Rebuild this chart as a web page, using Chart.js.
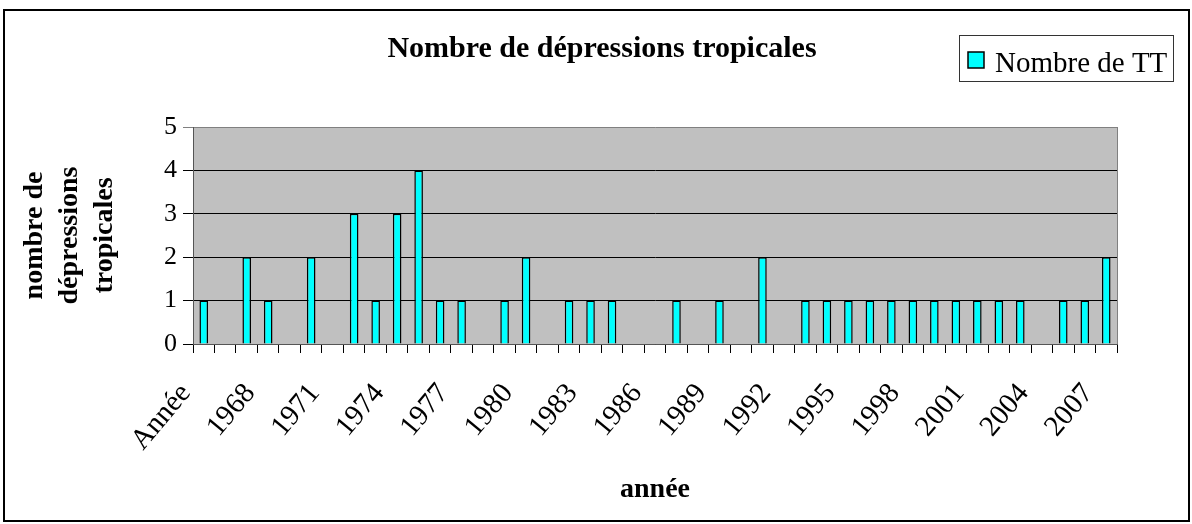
<!DOCTYPE html>
<html>
<head>
<meta charset="utf-8">
<script src="https://cdn.jsdelivr.net/npm/chart.js@4.4.0/dist/chart.umd.min.js"></script>
<style>
  html, body { margin: 0; padding: 0; background: #fff; }
  #wrap { width: 1192px; height: 524px; }
</style>
</head>
<body>
<div id="wrap"><canvas id="chart" width="1192" height="524"></canvas></div>
<script>
// data
const categories = ['Année', '1966', '1967', '1968', '1969', '1970', '1971', '1972', '1973', '1974',
    '1975', '1976', '1977', '1978', '1979', '1980', '1981', '1982', '1983', '1984',
    '1985', '1986', '1987', '1988', '1989', '1990', '1991', '1992', '1993', '1994',
    '1995', '1996', '1997', '1998', '1999', '2000', '2001', '2002', '2003', '2004',
    '2005', '2006', '2007'];
const nombreTT = [1, 0, 2, 1, 0, 2, 0, 3, 1, 3,
    4, 1, 1, 0, 1, 2, 0, 1, 1, 1,
    0, 0, 1, 0, 1, 0, 2, 0, 1, 1,
    1, 1, 1, 1, 1, 1, 1, 1, 1, 0,
    1, 1, 2];
const seriesLabel = 'Nombre de TT';
const chartTitle = 'Nombre de dépressions tropicales';
const xTitle = 'année';
const yTitle = ['nombre de', 'dépressions', 'tropicales'];
const yMin = 0, yMax = 5, yStep = 1;

const serif = '"Liberation Serif", "Times New Roman", serif';

const decor = {
    id: 'decor',
    beforeDraw(chart) {
        const { ctx, chartArea: a } = chart;
        ctx.save();
        ctx.fillStyle = '#fff';
        ctx.fillRect(0, 0, chart.width, chart.height);
        ctx.fillStyle = '#c0c0c0';
        ctx.fillRect(a.left, a.top, a.right - a.left, a.bottom - a.top);
        ctx.restore();
    },
    afterDraw(chart) {
        const { ctx, chartArea: a } = chart;
        const ds = chart.data.datasets[0];
        ctx.save();
        // plot area right edge
        ctx.strokeStyle = '#808080';
        ctx.lineWidth = 1;
        ctx.beginPath();
        ctx.moveTo(a.right + 0.5, a.top);
        ctx.lineTo(a.right + 0.5, a.bottom);
        ctx.stroke();

        // outer frame
        ctx.strokeStyle = '#000';
        ctx.lineWidth = 2;
        ctx.strokeRect(4, 10, 1185, 511);

        // title
        ctx.fillStyle = '#000';
        ctx.font = 'bold 30px ' + serif;
        ctx.textAlign = 'center';
        ctx.textBaseline = 'alphabetic';
        ctx.fillText(chartTitle, 602, 57);

        // legend
        ctx.lineWidth = 1;
        ctx.strokeStyle = '#333';
        ctx.strokeRect(959.5, 35.5, 214, 46);
        ctx.fillStyle = ds.backgroundColor;
        ctx.fillRect(968, 52, 16, 16);
        ctx.strokeStyle = '#000';
        ctx.lineWidth = 1.5;
        ctx.strokeRect(968, 52, 16, 16);
        ctx.fillStyle = '#000';
        ctx.font = '29px ' + serif;
        ctx.textAlign = 'left';
        ctx.fillText(ds.label, 995, 72);
        ctx.restore();
    }
};

new Chart(document.getElementById('chart'), {
    type: 'bar',
    data: {
        labels: categories,
        datasets: [{
            label: seriesLabel,
            data: nombreTT,
            backgroundColor: '#00ffff',
            borderColor: '#000',
            borderWidth: 1.5,
            categoryPercentage: 1,
            barPercentage: 0.4
        }]
    },
    options: {
        responsive: false,
        animation: false,
        layout: { padding: { left: 0, right: 75, top: 127, bottom: 0 } },
        plugins: {
            legend: { display: false },
            title: { display: false },
            tooltip: { enabled: false }
        },
        scales: {
            x: {
                afterFit: (scale) => { scale.height = 180; },
                grid: { drawOnChartArea: false, drawTicks: true, tickLength: 9, color: '#000' },
                border: { display: true, color: '#555' },
                ticks: {
                    autoSkip: false,
                    minRotation: 50,
                    maxRotation: 50,
                    padding: 24,
                    labelOffset: -18,
                    color: '#000',
                    font: { family: serif, size: 29 },
                    callback: function (value, index) {
                        return index % 3 === 0 ? this.getLabelForValue(value) : '';
                    }
                },
                title: {
                    display: true,
                    text: xTitle,
                    color: '#000',
                    font: { family: serif, size: 28, weight: 'bold' },
                    padding: { top: 0, bottom: 17 }
                }
            },
            y: {
                min: yMin,
                max: yMax,
                afterFit: (scale) => { scale.width = 193; },
                grid: {
                    color: (c) => c.tick && c.tick.value === yMax ? '#808080' : '#000',
                    tickLength: 10,
                    drawTicks: true
                },
                border: { display: true, color: '#555' },
                ticks: {
                    stepSize: yStep,
                    padding: 6,
                    color: '#000',
                    font: { family: serif, size: 26 }
                },
                title: {
                    display: true,
                    text: yTitle,
                    color: '#000',
                    font: { family: serif, size: 28, weight: 'bold', lineHeight: 1.25 },
                    padding: { top: 17, bottom: 0 }
                }
            }
        }
    },
    plugins: [decor]
});
</script>
</body>
</html>
